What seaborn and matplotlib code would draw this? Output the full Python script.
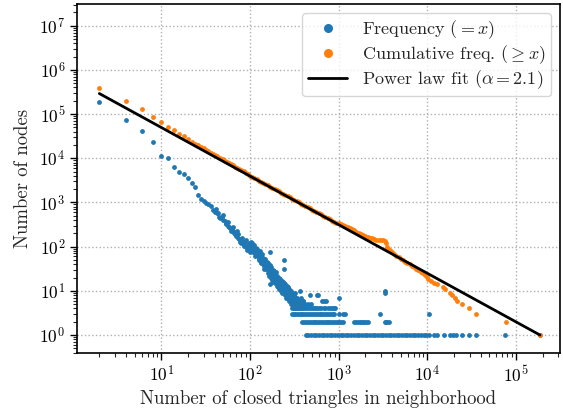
import numpy as np
import pandas as pd
import matplotlib
matplotlib.use("Agg")
import matplotlib.pyplot as plt
from matplotlib.lines import Line2D
import seaborn as sns

# ---------------- data ----------------
# Frequency (= x): number of nodes with exactly x closed triangles
freq_x_head = [2, 4, 6, 8, 10, 12, 14, 16, 18, 20, 22, 24, 26, 28, 30, 32, 34, 36, 38, 40,
               42, 44, 46, 48, 50, 52, 54, 56, 58, 60, 62, 64, 66, 68, 70, 72, 74, 76, 78, 80,
               82, 84, 86, 88, 90, 92, 94, 96, 98, 100]
freq_y_head = [190000, 73000, 41000, 23600, 11200, 10000, 6300, 4900, 4400, 3600, 2700, 2200,
               1500, 1190, 1070, 955, 906, 815, 680, 617, 590, 565, 437, 470, 400, 380, 348,
               300, 283, 260, 240, 225, 200, 190, 173, 225, 160, 146, 150, 123, 135, 118, 110,
               125, 100, 105, 92, 98, 88, 112]

freq_x_cloud = [102, 104, 106, 108, 110, 112, 114, 116, 118, 120, 122, 124, 126, 128, 130, 132,
                134, 136, 138, 140, 142, 144, 146, 148, 150, 153, 156, 159, 162, 165, 168, 168,
                170, 173, 176, 179, 182, 185, 188, 191, 194, 197, 200, 204, 208, 212, 216, 220,
                224, 228, 232, 236, 240, 240, 244, 248, 252, 256, 260, 265, 270, 275, 280, 285,
                290, 295, 300, 306, 312, 318, 324, 330]
freq_y_cloud = [95, 120, 88, 105, 80, 92, 70, 85, 66, 78, 60, 72, 55, 64, 50, 58,
                46, 52, 44, 40, 48, 37, 42, 34, 39, 31, 36, 29, 33, 26, 76, 14,
                30, 24, 27, 22, 25, 20, 23, 18, 21, 17, 19, 15, 17, 14, 16, 13,
                15, 12, 11, 13, 32, 50, 10, 12, 9, 11, 10, 8, 9, 7, 8, 9,
                6, 7, 8, 6, 5, 7, 5, 6]

freq_x_cloud2 = [41, 45, 49, 53, 57, 61, 65, 69, 73, 77, 81, 85, 89, 93, 97, 99,
                 103, 107, 111, 115, 117, 121, 125, 129, 133, 137, 141, 145, 149, 155, 158, 161,
                 164, 167, 171, 174, 177, 181, 184, 187, 192, 195, 199, 203, 207, 211, 215, 219,
                 223, 227, 231, 235, 239, 243, 247, 251, 255, 259, 263, 268, 273, 278, 283, 288,
                 293, 298, 303, 310, 316, 322, 328, 335, 342, 350, 358, 367, 375, 385, 400]
freq_y_cloud2 = [700, 480, 520, 330, 360, 230, 280, 210, 190, 130, 160, 105, 140, 85, 120, 75,
                 130, 75, 110, 62, 95, 90, 50, 80, 42, 68, 56, 32, 52, 45, 25, 42,
                 22, 38, 20, 34, 18, 30, 16, 28, 15, 26, 13, 22, 12, 20, 11, 19,
                 10, 17, 9, 16, 9, 15, 8, 14, 7, 13, 7, 12, 6, 11, 6, 10,
                 5, 9, 5, 8, 4, 7, 4, 6, 5, 4, 5, 4, 7, 5, 6]

row10_x = [244, 260, 365, 3300]
row9_x = [252, 270, 285, 320, 3300]
row8_x = [265, 280, 300, 474, 565, 580]
row7_x = [275, 295, 318, 340, 1007]
row6_x = [290, 306, 330, 350, 372, 395, 643, 683, 713]
row5_x = [330, 345, 360, 378, 395, 420, 450, 490]
row4_x = [300, 315, 330, 345, 360, 375, 392, 410, 430, 450, 470, 495, 520, 545, 575, 605,
          640, 675, 710, 750, 790, 835, 880, 912]
row3_x = [295, 310, 325, 340, 356, 372, 390, 410, 430, 452, 475, 500, 525, 552, 580, 610,
          640, 672, 706, 742, 780, 820, 860, 890, 1000, 1120, 1170, 2930, 10500]
row2_x = [390, 410, 430, 450, 472, 495, 520, 545, 572, 600, 630, 662, 695, 730, 766, 805,
          845, 888, 930, 970, 1000, 1070, 1120, 1490, 1560, 1640, 1720, 1800, 1880, 1950,
          2040, 2130, 3350, 3450, 3550, 3700]
row1_x = [425, 455, 490, 520, 560, 600, 645, 690, 740, 795, 850, 910, 980, 1050, 1120, 1200,
          1290, 1380, 1480, 1590, 1700, 1830, 1960, 2100, 2250, 2410, 2590, 2770, 2970, 3190,
          3420, 3660, 3930, 4210, 4510, 4840, 5190, 5560, 5960, 6390, 6850, 7340, 7870, 8440,
          9050, 9700, 10300, 11900, 12900, 15500, 18000, 19600, 21200, 24700, 29500, 35000,
          76000, 186000]

# Cumulative frequency (>= x)
cum_x = [2, 4, 6, 8, 10, 12, 14, 16, 18, 20, 22, 24, 26, 28, 30, 32, 34, 36, 38, 40, 43, 46,
         49, 52, 55, 58, 61, 64, 68, 72, 76, 80, 85, 90, 95, 100, 106, 112, 119, 126, 133, 140,
         149, 158, 168, 178, 189, 200, 212, 224, 237, 250, 265, 280, 298, 316, 335, 354, 376,
         398, 422, 446, 473, 500, 531, 562, 595, 630, 668, 708, 750, 794, 842, 892, 944, 1000,
         1060, 1122, 1190, 1260, 1335, 1412, 1496, 1584, 1680, 1778, 1884, 1996, 2114, 2238,
         2372, 2512, 2660, 2818, 2985, 3160, 3300, 3400, 3475, 3550, 3760, 3980, 4220, 4470,
         4740, 5010, 5310, 5620, 5960, 6310, 6690, 7080, 7500, 7940, 8410, 8910, 9400, 9820,
         10230, 11000, 11860, 12930, 15100, 15800, 18000, 18800, 20500, 21400, 24400, 29700,
         35000, 76900, 186000]
cum_y = [390000, 200000, 128000, 87000, 65000, 51000, 43000, 36000, 32000, 27000, 23700, 21400,
         19600, 18000, 16700, 15500, 14400, 13500, 12700, 12000, 11000, 10200, 9500, 8900, 8400,
         7900, 7400, 6900, 6480, 6080, 5740, 5420, 5020, 4650, 4340, 4050, 3800, 3570, 3350,
         3140, 2960, 2790, 2610, 2440, 2290, 2150, 2010, 1890, 1780, 1670, 1570, 1480, 1390,
         1300, 1220, 1140, 1070, 1010, 945, 885, 832, 782, 734, 689, 646, 605, 569, 535, 502,
         470, 441, 414, 389, 365, 348, 336, 318, 303, 288, 274, 260, 247, 232, 217, 206, 196,
         186, 177, 168, 159, 153, 147, 143, 139, 139, 140, 137, 120, 100, 92, 83, 75, 68, 62,
         57, 53, 49, 46, 43, 40, 37, 34, 31, 29, 27, 25, 23, 21, 19, 17, 15, 14, 12, 11, 9, 8,
         7, 6, 5, 4, 3, 2, 1]

alpha = 2.1
fit_x = [2, 186000]

series_labels = ["Frequency ($=x$)", r"Cumulative freq. ($\geq x$)",
                 r"Power law fit ($\alpha=2.1$)"]
x_ticks = [1e1, 1e2, 1e3, 1e4, 1e5]
y_ticks = [1e0, 1e1, 1e2, 1e3, 1e4, 1e5, 1e6, 1e7]
x_tick_labels = [r"$10^{1}$", r"$10^{2}$", r"$10^{3}$", r"$10^{4}$", r"$10^{5}$"]
y_tick_labels = [r"$10^{0}$", r"$10^{1}$", r"$10^{2}$", r"$10^{3}$", r"$10^{4}$",
                 r"$10^{5}$", r"$10^{6}$", r"$10^{7}$"]

# ---------------- assemble ----------------
fx = list(freq_x_head) + list(freq_x_cloud) + list(freq_x_cloud2)
fy = list(freq_y_head) + list(freq_y_cloud) + list(freq_y_cloud2)
for yv, xs in [(10, row10_x), (9, row9_x), (8, row8_x), (7, row7_x), (6, row6_x),
               (5, row5_x), (4, row4_x), (3, row3_x), (2, row2_x), (1, row1_x)]:
    fx += list(xs)
    fy += [yv] * len(xs)
freq_df = pd.DataFrame({"x": fx, "y": fy})
cum_df = pd.DataFrame({"x": cum_x, "y": cum_y})
# power-law fit of the cumulative distribution: slope -(alpha-1), through the last point
fit_xa = np.array(fit_x, dtype=float)
fit_df = pd.DataFrame({"x": fit_xa, "y": (fit_xa / fit_xa[-1]) ** (-(alpha - 1))})

# ---------------- style ----------------
sns.set_style("ticks")
plt.rcParams["font.family"] = ["cmr10", "DejaVu Serif"]
plt.rcParams["mathtext.fontset"] = "cm"
plt.rcParams["axes.formatter.use_mathtext"] = True
plt.rcParams["axes.unicode_minus"] = False

BLUE, ORANGE = "#1f77b4", "#ff7f0e"

fig = plt.figure(figsize=(5.63, 4.09), dpi=100)
ax = fig.add_axes([77 / 563, 1 - 352.7 / 409, (560 - 77) / 563, (352.7 - 4) / 409])

sns.scatterplot(data=freq_df, x="x", y="y", ax=ax, color=BLUE, s=12,
                linewidth=0, zorder=2, legend=False)
sns.scatterplot(data=cum_df, x="x", y="y", ax=ax, color=ORANGE, s=12,
                linewidth=0, zorder=3, legend=False)
sns.lineplot(data=fit_df, x="x", y="y", ax=ax, color="black", linewidth=2,
             zorder=4, legend=False)

ax.set_xscale("log")
ax.set_yscale("log")
ax.set_xlim(1.12, 3.13e5)
ax.set_ylim(0.398, 3.1e7)
ax.set_xticks(x_ticks)
ax.set_xticklabels(x_tick_labels)
ax.set_yticks(y_ticks)
ax.set_yticklabels(y_tick_labels)

ax.grid(True, which="major", linestyle=":", color="#b0b0b0", linewidth=1.0)
ax.tick_params(which="major", length=5, width=1, labelsize=12.5, colors="black")
ax.tick_params(which="minor", length=3, width=0.8)
for sp in ax.spines.values():
    sp.set_linewidth(1.2)
    sp.set_color("black")

ax.set_xlabel("Number of closed triangles in neighborhood", fontsize=13.5, labelpad=4)
ax.set_ylabel("Number of nodes", fontsize=13.5, labelpad=5)

handles = [
    Line2D([], [], marker="o", linestyle="", color=BLUE, markersize=6.5, markeredgewidth=0),
    Line2D([], [], marker="o", linestyle="", color=ORANGE, markersize=6.5, markeredgewidth=0),
    Line2D([], [], color="black", linewidth=2),
]
ax.legend(handles, series_labels, loc="upper right", fontsize=13, frameon=True,
          fancybox=True, framealpha=0.8, edgecolor="0.8", labelspacing=0.12,
          borderpad=0.3, handlelength=2.2)

fig.savefig("out.png", dpi=100)
